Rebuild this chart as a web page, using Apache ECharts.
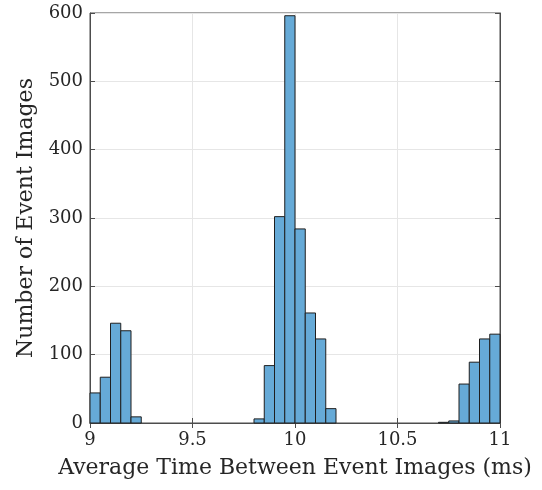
<!DOCTYPE html>
<html>
<head>
<meta charset="utf-8">
<script src="https://cdn.jsdelivr.net/npm/echarts@6/dist/echarts.min.js"></script>
<style>
  html, body { margin: 0; padding: 0; background: #fff; }
  #main { width: 542px; height: 490px; }
</style>
</head>
<body>
<div id="main"></div>
<script>
// histogram bins (left edges, ms) and counts
var binLefts = [9.00, 9.05, 9.10, 9.15, 9.20, 9.25, 9.30, 9.35, 9.40, 9.45,
                9.50, 9.55, 9.60, 9.65, 9.70, 9.75, 9.80, 9.85, 9.90, 9.95,
                10.00, 10.05, 10.10, 10.15, 10.20, 10.25, 10.30, 10.35, 10.40, 10.45,
                10.50, 10.55, 10.60, 10.65, 10.70, 10.75, 10.80, 10.85, 10.90, 10.95];
var binWidth = 0.05;
var counts = [44, 67, 146, 135, 9, 0, 0, 0, 0, 0,
              0, 0, 0, 0, 0, 0, 6, 84, 302, 596,
              284, 161, 123, 21, 0, 0, 0, 0, 0, 0,
              0, 0, 0, 0, 1, 3, 57, 89, 123, 130];
var xTicks = [9, 9.5, 10, 10.5, 11];
var yTicks = [0, 100, 200, 300, 400, 500, 600];

var font = '"DejaVu Serif", "Liberation Serif", serif';
var axisColor = '#4d4d4d';
var textColor = '#262626';

var data = [];
for (var i = 0; i < counts.length; i++) {
  if (counts[i] > 0) data.push([binLefts[i], binLefts[i] + binWidth, counts[i]]);
}

var chart = echarts.init(document.getElementById('main'));

function renderBar(params, api) {
  var p0 = api.coord([api.value(0), api.value(2)]);
  var p1 = api.coord([api.value(1), 0]);
  return {
    type: 'rect',
    shape: { x: p0[0], y: p0[1], width: p1[0] - p0[0], height: p1[1] - p0[1] },
    style: { fill: '#66aad7', stroke: '#1f1f1f', lineWidth: 1 }
  };
}

var option = {
  animation: false,
  backgroundColor: '#fff',
  grid: { left: 90, right: 42, top: 13, bottom: 67, show: true, borderColor: axisColor, borderWidth: 1 },
  xAxis: [
    {
      type: 'value', min: xTicks[0], max: xTicks[xTicks.length - 1], interval: 0.5,
      name: 'Average Time Between Event Images (ms)',
      nameLocation: 'middle', nameGap: 34,
      nameTextStyle: { fontFamily: font, fontSize: 22, color: textColor },
      axisLine: { show: true, lineStyle: { color: axisColor } },
      axisTick: { show: true, inside: true, length: 5, lineStyle: { color: axisColor } },
      axisLabel: { fontFamily: font, fontSize: 18, color: textColor, margin: 8 },
      splitLine: { show: true, lineStyle: { color: '#e6e6e6' } }
    },
    {
      type: 'value', position: 'top', min: xTicks[0], max: xTicks[xTicks.length - 1], interval: 0.5,
      axisLine: { show: true, lineStyle: { color: axisColor } },
      axisTick: { show: true, inside: true, length: 5, lineStyle: { color: axisColor } },
      axisLabel: { show: false }, splitLine: { show: false }
    }
  ],
  yAxis: [
    {
      type: 'value', min: yTicks[0], max: yTicks[yTicks.length - 1], interval: 100,
      name: 'Number of Event Images',
      nameLocation: 'middle', nameGap: 45,
      nameTextStyle: { fontFamily: font, fontSize: 22, color: textColor },
      axisLine: { show: true, lineStyle: { color: axisColor } },
      axisTick: { show: true, inside: true, length: 5, lineStyle: { color: axisColor } },
      axisLabel: { fontFamily: font, fontSize: 18, color: textColor, margin: 7 },
      splitLine: { show: true, lineStyle: { color: '#e6e6e6' } }
    },
    {
      type: 'value', position: 'right', min: yTicks[0], max: yTicks[yTicks.length - 1], interval: 100,
      axisLine: { show: true, lineStyle: { color: axisColor } },
      axisTick: { show: true, inside: true, length: 5, lineStyle: { color: axisColor } },
      axisLabel: { show: false }, splitLine: { show: false }
    }
  ],
  series: [
    {
      type: 'custom',
      renderItem: renderBar,
      encode: { x: [0, 1], y: 2 },
      data: data
    }
  ]
};
chart.setOption(option);
</script>
</body>
</html>
